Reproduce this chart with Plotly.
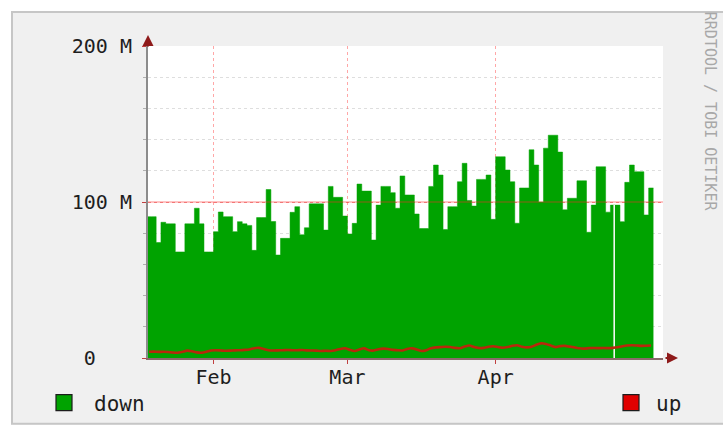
import plotly.graph_objects as go
import pandas as pd

# ---------------- data (values in millions) ----------------
start_date = "2009-01-18"
down_values = [
    90.6, 90.6, 74, 87, 86, 86, 68, 68, 86, 86,
    96, 86, 68, 68, 81, 93.6, 90.6, 90.6, 81, 87.4,
    86, 85, 69, 90, 90, 108, 87.5, 66, 76.7, 76.7,
    93.4, 97, 79, 83.5, 98.8, 98.8, 98.8, 82, 110, 103,
    103, 91, 79.5, 86.3, 111.5, 107, 107, 75.6, 98, 110,
    110, 106, 96, 116.7, 104.5, 104.5, 92.3, 83, 83, 110,
    123.7, 117.3, 82.4, 97, 97, 113, 124.8, 101, 97.4, 114.5,
    114.5, 117.3, 88.9, 129, 129, 120.5, 113, 86.4, 109, 109,
    133.5, 123.7, 100, 134.5, 142.8, 142.8, 132, 95, 102.4, 102.4,
    113.6, 113.6, 80.6, 98, 122.6, 122.6, 93.5, 98, 98, 87.4,
    112.6, 123.7, 119.4, 119.4, 91.7, 109,
]
up_values = [
    4.0, 4.1, 3.9, 4.0, 3.8, 3.5, 3.4, 4.0, 4.7, 4.3,
    3.6, 3.4, 4.0, 4.8, 5.0, 4.8, 4.6, 4.7, 4.9, 5.0,
    5.2, 5.5, 6.3, 6.5, 5.8, 5.0, 4.8, 4.9, 5.0, 5.1,
    5.0, 5.0, 5.1, 4.9, 4.8, 4.7, 4.5, 4.6, 4.5, 5.0,
    5.8, 6.2, 5.2, 4.5, 5.5, 6.2, 5.0, 4.8, 5.6, 6.0,
    5.8, 5.2, 5.0, 4.8, 5.8, 6.2, 5.5, 4.5, 5.0, 6.3,
    6.8, 7.0, 7.2, 7.0, 6.5, 6.3, 7.3, 8.0, 7.0, 6.4,
    6.5, 7.2, 7.5, 7.0, 6.6, 7.0, 7.8, 8.2, 7.2, 6.8,
    7.2, 8.5, 9.4, 9.0, 8.0, 7.0, 7.6, 7.8, 7.3, 6.8,
    6.2, 6.0, 6.3, 6.4, 6.3, 6.4, 6.3, 6.5, 6.9, 7.5,
    8.0, 8.2, 8.0, 7.8, 7.9, 8.0,
]
gap_times = ["2009-04-25 19:00"]
month_ticks = ["2009-02-01", "2009-03-01", "2009-04-01"]
month_labels = ["Feb", "Mar", "Apr"]
y_ticks = [0, 100, 200]
y_labels = ["0\u00a0\u00a0\u00a0", "100 M", "200 M"]
series_names = ["down", "up"]
x_range = ["2009-01-18 07:00", "2009-05-06 00:00"]

# ---------------- styling ----------------
GREEN = "#00a300"
RED = "#e00000"
UP_LINE = "#b8280c"
FONT = "DejaVu Sans Mono"
TXT = "#1e1e1e"

days = pd.date_range(start_date, periods=len(down_values) + 1, freq="D")
down_steps = down_values + [down_values[-1]]
mid_days = days[:-1] + pd.Timedelta(hours=12)

fig = go.Figure()

fig.add_trace(go.Scatter(
    x=days, y=down_steps, mode="lines",
    line=dict(shape="hv", width=0.5, color=GREEN),
    fill="tozeroy", fillcolor=GREEN, showlegend=False, hoverinfo="skip"))

# data gaps (unknown samples) shown as thin white lines
for g in gap_times:
    idx = int((pd.Timestamp(g) - days[0]) / pd.Timedelta(days=1))
    fig.add_trace(go.Scatter(
        x=[g, g], y=[0, down_values[idx]], mode="lines",
        line=dict(color="white", width=1.5), showlegend=False, hoverinfo="skip"))

fig.add_trace(go.Scatter(
    x=mid_days, y=up_values, mode="lines",
    line=dict(shape="spline", smoothing=0.6, width=2.6, color=UP_LINE),
    showlegend=False, hoverinfo="skip"))

# legend entries (square swatches like rrdtool)
fig.add_trace(go.Scatter(
    x=[None], y=[None], mode="markers", name=series_names[0], legend="legend",
    marker=dict(symbol="square", size=16, color=GREEN, line=dict(color="#1c1c1c", width=1.2))))
fig.add_trace(go.Scatter(
    x=[None], y=[None], mode="markers", name=series_names[1], legend="legend2",
    marker=dict(symbol="square", size=16, color=RED, line=dict(color="#1c1c1c", width=1.2))))

L, R, T, B = 148, 60, 46, 75
W, H = 723, 434
pw, ph = W - L - R, H - T - B


def px(xp):
    return (xp - L) / pw


def py(yp):
    return (H - B - yp) / ph


shapes = [
    # white page margins outside the rrdtool frame
    dict(type="rect", xref="paper", yref="paper", x0=px(-5), x1=px(W + 5), y0=py(-5), y1=py(11),
         fillcolor="white", line=dict(width=0), layer="below"),
    dict(type="rect", xref="paper", yref="paper", x0=px(-5), x1=px(11), y0=py(H + 5), y1=py(-5),
         fillcolor="white", line=dict(width=0), layer="below"),
    dict(type="rect", xref="paper", yref="paper", x0=px(-5), x1=px(W + 5), y0=py(H + 5), y1=py(426),
         fillcolor="white", line=dict(width=0), layer="below"),
    # frame
    dict(type="rect", xref="paper", yref="paper", x0=px(12), x1=px(W + 10), y0=py(425), y1=py(12),
         fillcolor="rgba(0,0,0,0)", line=dict(color="#c6c6c6", width=2), layer="below"),
    # major grid drawn over the data like rrdtool
    dict(type="line", xref="paper", yref="y", x0=0, x1=1, y0=y_ticks[1], y1=y_ticks[1],
         line=dict(color="rgba(255,40,40,0.55)", width=1), layer="above"),
]

annotations = [
    dict(xref="paper", yref="paper", x=0, y=py(35), ax=0, ay=13, text="",
         showarrow=True, arrowhead=2, arrowsize=1.1, arrowwidth=2, arrowcolor="#8e1a1a"),
    dict(xref="paper", yref="paper", x=px(678), y=0, ax=-14, ay=0, text="",
         showarrow=True, arrowhead=2, arrowsize=1.1, arrowwidth=2, arrowcolor="#8e1a1a"),
    dict(xref="paper", yref="paper", x=px(710), y=py(112), xanchor="center", yanchor="middle",
         text="RRDTOOL / TOBI OETIKER",
         textangle=90, showarrow=False, font=dict(family=FONT, size=15, color="#a8a8a8")),
]

tick_font = dict(family=FONT, size=20, color=TXT)

fig.update_layout(
    width=W, height=H, autosize=False,
    margin=dict(l=L, r=R, t=T, b=B, pad=0),
    paper_bgcolor="#f0f0f0", plot_bgcolor="white",
    font=dict(family=FONT, size=20, color=TXT),
    shapes=shapes, annotations=annotations,
    xaxis=dict(
        type="date", range=x_range,
        tickvals=month_ticks, ticktext=month_labels,
        showgrid=True, gridcolor="rgba(255,60,60,0.45)", griddash="dot", gridwidth=1,
        ticks="outside", ticklen=4, tickcolor="#c04040", tickwidth=1,
        showline=True, linecolor="#8a6a6a", linewidth=2,
        zeroline=False, tickfont=tick_font,
        ticklabelstandoff=-4,
    ),
    yaxis=dict(
        range=[0, 200], tickvals=y_ticks, ticktext=y_labels,
        showgrid=True, gridcolor="rgba(255,60,60,0.45)", griddash="dot", gridwidth=1,
        ticks="outside", ticklen=4, tickcolor="#c04040",
        minor=dict(dtick=20, showgrid=True, gridcolor="#dedede", griddash="dot",
                   ticks="outside", ticklen=3, tickcolor="#b0b0b0"),
        showline=True, linecolor="#8c8c8c", linewidth=2,
        zeroline=False, tickfont=tick_font,
        ticklabelstandoff=6,
    ),
    legend=dict(x=px(34), y=py(403), xanchor="left", yanchor="middle", itemwidth=50,
                bgcolor="rgba(0,0,0,0)", font=dict(family=FONT, size=21, color=TXT)),
    legend2=dict(x=px(606), y=py(403), xanchor="left", yanchor="middle", itemwidth=40,
                 bgcolor="rgba(0,0,0,0)", font=dict(family=FONT, size=21, color=TXT)),
)

fig.write_html("out.html", config={"displayModeBar": False},
               post_script="document.body.style.margin='0px';")
